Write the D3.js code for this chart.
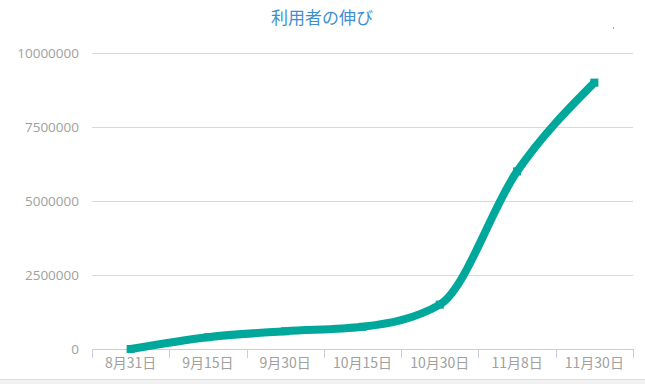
<!DOCTYPE html>
<html>
<head>
<meta charset="utf-8">
<script src="https://cdn.jsdelivr.net/npm/d3@7"></script>
<style>
  html, body { margin: 0; padding: 0; background: #fff; }
  svg { display: block; }
</style>
</head>
<body>
<svg id="chart" width="645" height="384"></svg>
<script>
const title = "利用者の伸び";
const dates = ["8月31日", "9月15日", "9月30日", "10月15日", "10月30日", "11月8日", "11月30日"];
const users = [0, 400000, 600000, 750000, 1500000, 6000000, 9000000];
const yTicks = [0, 2500000, 5000000, 7500000, 10000000];

const svg = d3.select("#chart");
const W = 645, H = 384;
const m = { left: 92, right: 12, top: 53, bottom: 35 };

const x = d3.scaleBand().domain(dates).range([m.left, W - m.right]);
const y = d3.scaleLinear().domain([0, 10000000]).range([H - m.bottom, m.top]);

// bottom strip
svg.append("rect").attr("x", 0).attr("y", 379).attr("width", W).attr("height", 5).attr("fill", "#f2f2f2");
svg.append("line").attr("x1", 0).attr("x2", W).attr("y1", 379.5).attr("y2", 379.5).attr("stroke", "#dcdcdc");

// title
svg.append("text")
  .attr("x", 322).attr("y", 24)
  .attr("text-anchor", "middle")
  .style("font-family", "'Noto Sans CJK JP', sans-serif")
  .style("font-size", "17px")
  .style("fill", "#3d8fd1")
  .text(title);

// tiny speck near the top right
svg.append("rect").attr("x", 613).attr("y", 27).attr("width", 1).attr("height", 2).attr("fill", "#9aa");

// y grid + labels
const yAxis = svg.append("g")
  .attr("transform", `translate(${m.left},0)`)
  .call(d3.axisLeft(y).tickValues(yTicks).tickFormat(d3.format("d")).tickSize(-(W - m.left - m.right)).tickPadding(13));
yAxis.select(".domain").remove();
yAxis.selectAll(".tick line").attr("stroke", d => d === 0 ? "none" : "#d9d9d9");
yAxis.selectAll(".tick text")
  .style("font-family", "'Open Sans', sans-serif")
  .style("font-size", "13.5px")
  .style("fill", "#a0a0a0");

// x axis
const xAxis = svg.append("g")
  .attr("transform", `translate(0,${y(0)})`)
  .call(d3.axisBottom(x).tickSize(0).tickPadding(9));
xAxis.select(".domain").attr("stroke", "#c3cfdd").attr("d", `M${m.left},0.5H${W - m.right}`);
xAxis.selectAll(".tick text")
  .style("font-family", "'Noto Sans CJK JP', sans-serif")
  .style("font-size", "14px")
  .style("fill", "#a0a0a0");
const bounds = dates.map(d => x(d)).concat([x(dates[dates.length - 1]) + x.bandwidth()]);
xAxis.selectAll(".bound").data(bounds).join("line")
  .attr("class", "bound")
  .attr("x1", d => Math.round(d) + 0.5).attr("x2", d => Math.round(d) + 0.5)
  .attr("y1", 0).attr("y2", 9)
  .attr("stroke", "#c3cfdd");

// line
const color = "#00a89c";
const pts = dates.map((d, i) => [x(d) + x.bandwidth() / 2, y(users[i])]);
svg.append("path")
  .attr("d", d3.line().curve(d3.curveMonotoneX)(pts))
  .attr("fill", "none")
  .attr("stroke", color)
  .attr("stroke-width", 8);

svg.selectAll(".mk").data(pts).join("rect")
  .attr("class", "mk")
  .attr("x", d => d[0] - 4).attr("y", d => d[1] - 4)
  .attr("width", 8).attr("height", 8)
  .attr("fill", color);
</script>
</body>
</html>
